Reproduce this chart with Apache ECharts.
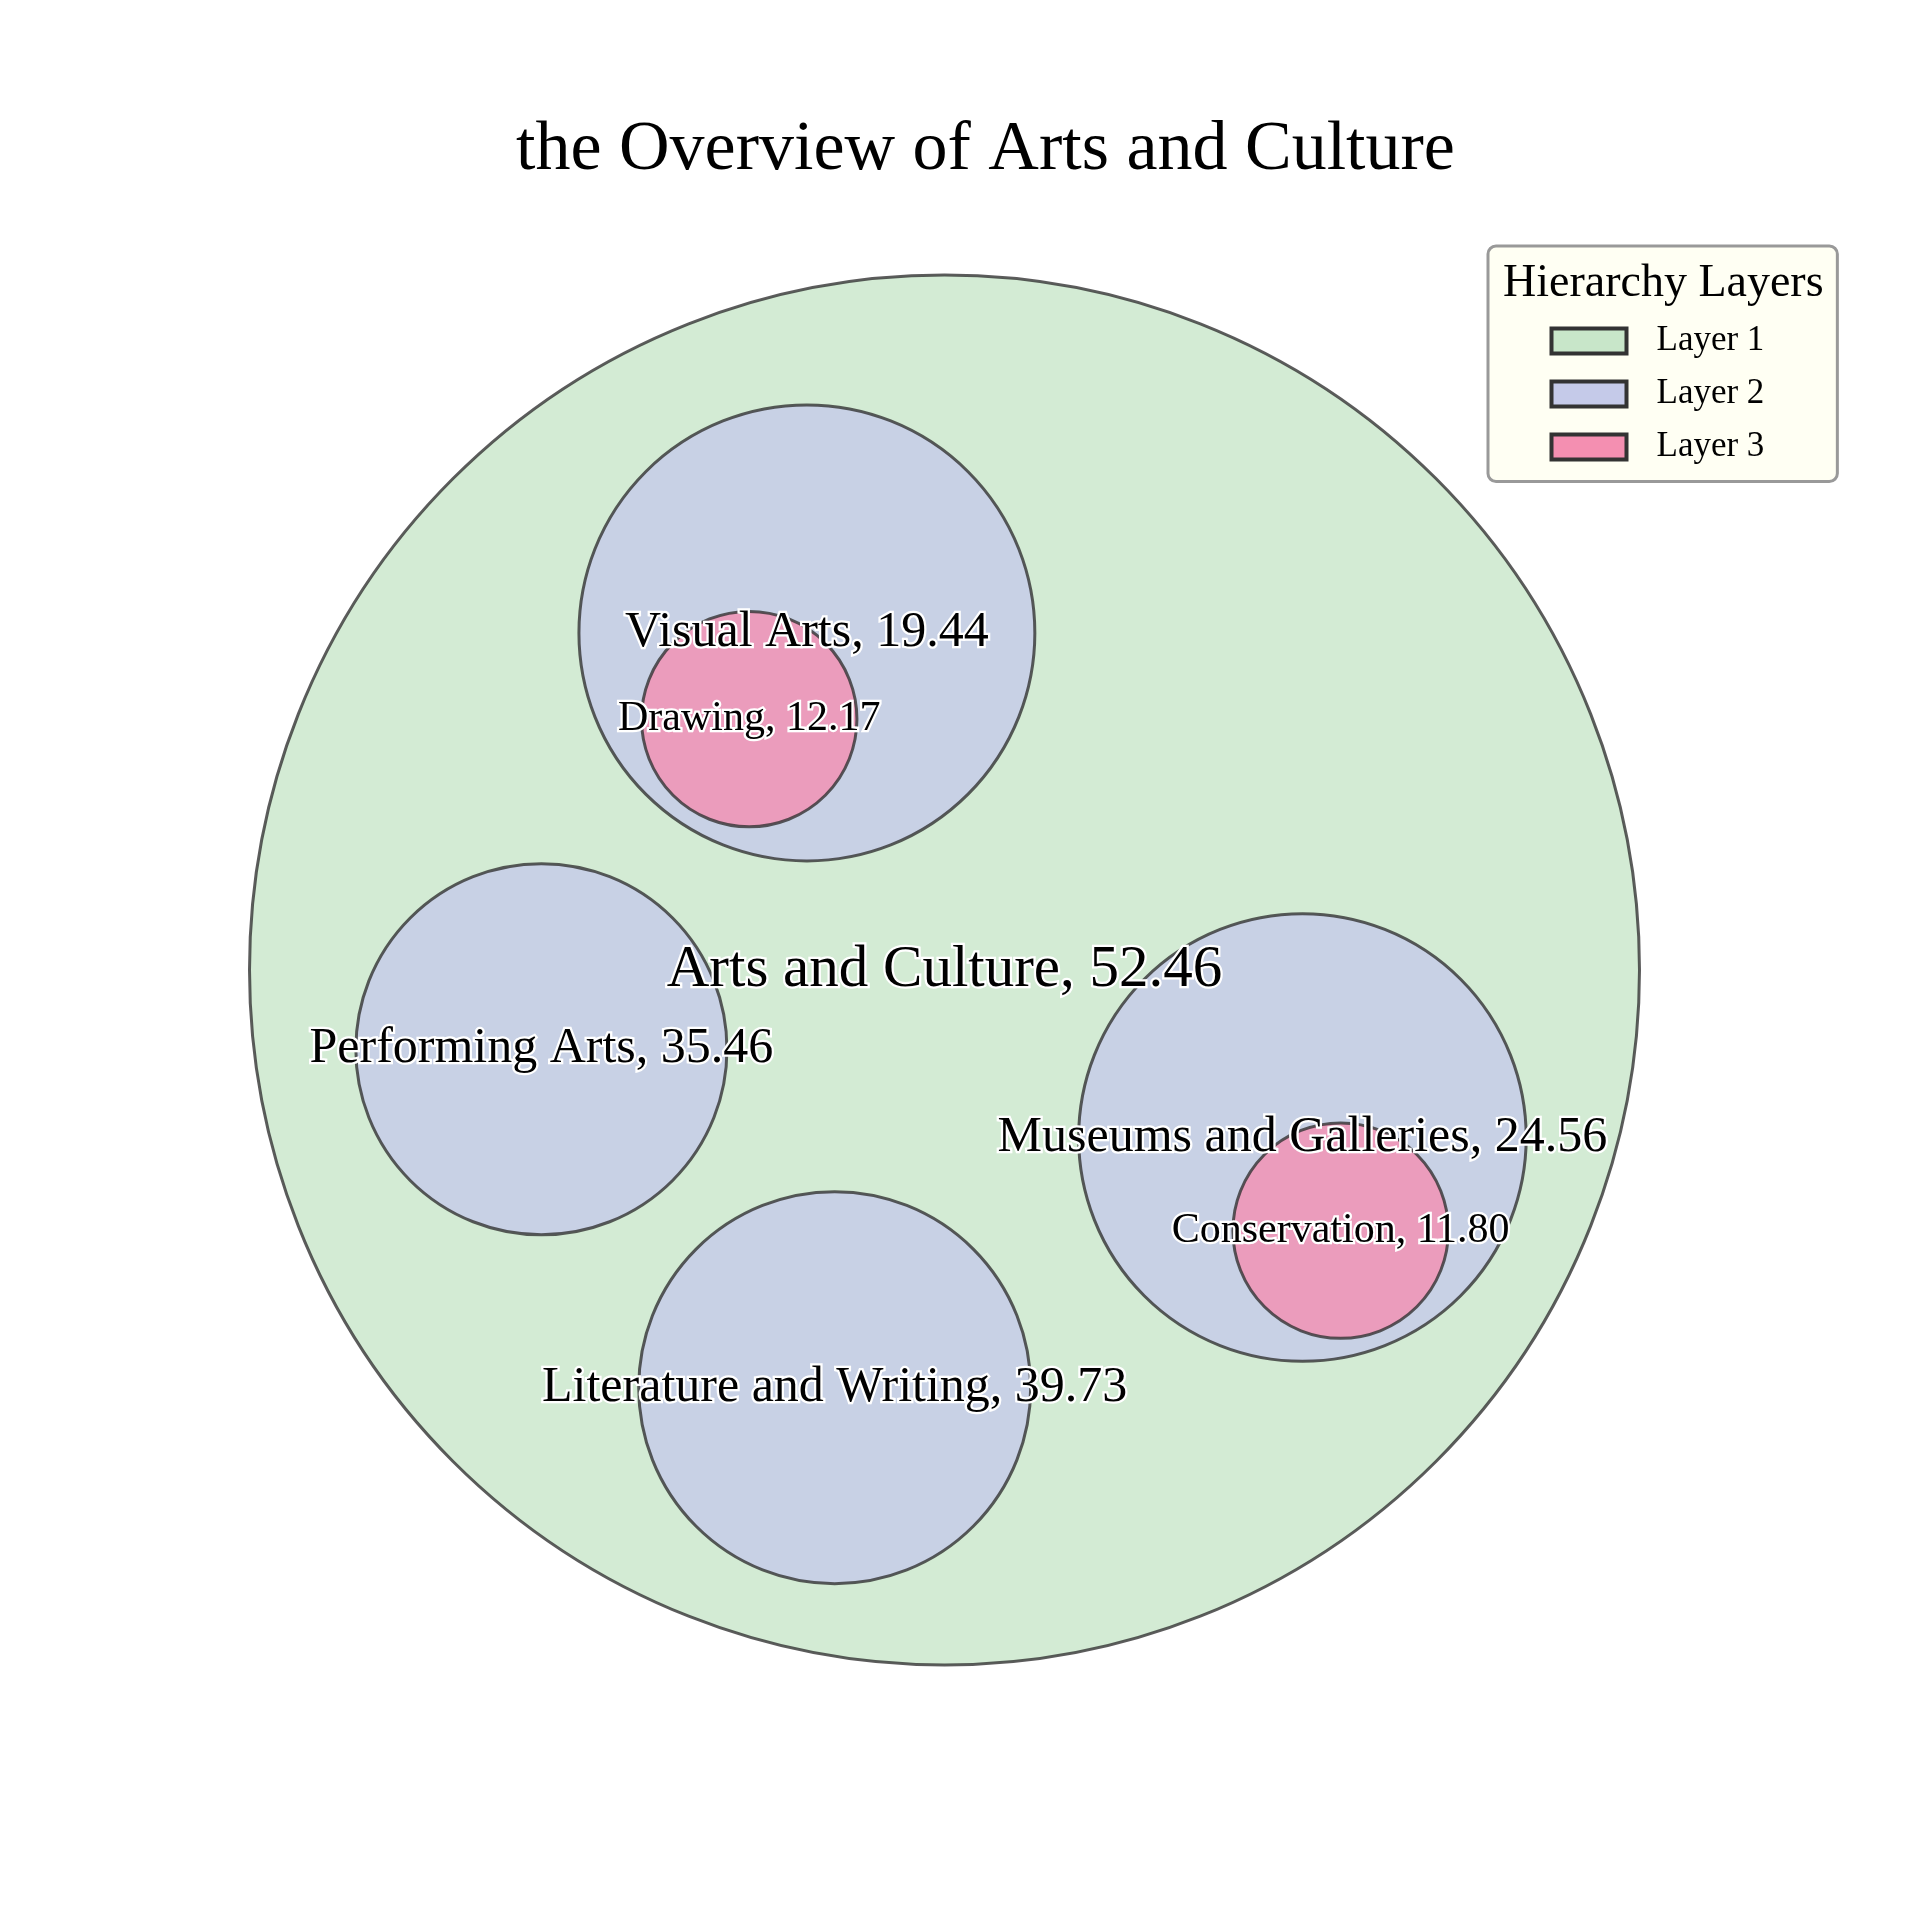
<!DOCTYPE html>
<html><head><meta charset="utf-8">
<script src="https://cdn.jsdelivr.net/npm/echarts/dist/echarts.min.js"></script>
<style>html,body{margin:0;padding:0;background:#fff}#main{width:1920px;height:1920px}</style>
</head><body><div id="main"></div>
<script>
// ---- data ----
const layerNames = ['Layer 1', 'Layer 2', 'Layer 3'];

const layer1Names = ['Arts and Culture'];
const layer1Values = [52.46];
// circle-packing layout in data units: [x, y, r]
const layer1Layout = [[0, 0, 1]];

const layer2Names = ['Visual Arts', 'Performing Arts', 'Museums and Galleries', 'Literature and Writing'];
const layer2Values = [19.44, 35.46, 24.56, 39.73];
const layer2Layout = [[-0.198, 0.485, 0.328], [-0.580, -0.114, 0.267], [0.515, -0.241, 0.322], [-0.158, -0.601, 0.282]];

const layer3Names = ['Drawing', 'Conservation'];
const layer3Values = [12.17, 11.80];
const layer3Layout = [[-0.281, 0.361, 0.155], [0.570, -0.375, 0.155]];

// ---- styles ----
const baseColors = ['#C8E6C9', '#C5CAE9', '#F48FB1'];
const fillColors = ['rgba(200,230,201,0.8)', 'rgba(197,202,233,0.8)', 'rgba(244,143,177,0.8)'];
const labelSizes = [59, 50, 42];
const FONT = '"Liberation Serif", "Times New Roman", serif';

const layers = [
  { names: layer1Names, values: layer1Values, layout: layer1Layout },
  { names: layer2Names, values: layer2Values, layout: layer2Layout },
  { names: layer3Names, values: layer3Values, layout: layer3Layout }
];

function makeRender(li) {
  const L = layers[li];
  return function (params, api) {
    const c = api.coord([api.value(0), api.value(1)]);
    const s = api.size([api.value(2), api.value(2)]);
    const r = s[0];
    const i = params.dataIndex;
    return {
      type: 'group',
      children: [
        {
          type: 'circle',
          shape: { cx: c[0], cy: c[1], r: r },
          style: { fill: fillColors[li], stroke: 'rgba(51,51,51,0.8)', lineWidth: 3 },
          z2: li
        },
        {
          type: 'text',
          x: c[0], y: c[1],
          style: {
            text: L.names[i] + ', ' + L.values[i].toFixed(2),
            fontFamily: FONT,
            fontSize: labelSizes[li],
            fill: '#000',
            stroke: '#fff',
            lineWidth: 4.5,
            align: 'center',
            verticalAlign: 'middle'
          },
          z2: 100
        }
      ]
    };
  };
}

const chart = echarts.init(document.getElementById('main'), null, { renderer: 'canvas' });
chart.setOption({
  backgroundColor: '#ffffff',
  animation: false,
  title: [
    {
      text: 'the Overview of Arts and Culture',
      left: 511, top: 111,
      textStyle: { fontFamily: FONT, fontSize: 70, fontWeight: 'normal', color: '#000' }
    },
    {
      text: 'Hierarchy Layers',
      left: 1498, top: 256,
      z: 10,
      textStyle: { fontFamily: FONT, fontSize: 46, fontWeight: 'normal', color: '#000' }
    }
  ],
  grid: { left: 249.5, top: 275, width: 1390, height: 1390 },
  xAxis: { type: 'value', min: -1, max: 1, show: false },
  yAxis: { type: 'value', min: -1, max: 1, show: false },
  legend: {
    orient: 'vertical',
    left: 1488, top: 246,
    padding: [77.5, 73, 17, 61.5],
    itemWidth: 75, itemHeight: 25, itemGap: 18,
    backgroundColor: 'rgba(255,255,240,0.8)',
    borderColor: '#999', borderWidth: 3, borderRadius: 8,
    icon: 'rect',
    selectedMode: false,
    textStyle: { fontFamily: FONT, fontSize: 35, color: '#000', padding: [0, 0, 0, 25] },
    data: layerNames.map((n, i) => ({
      name: n,
      itemStyle: { color: baseColors[i], borderColor: '#333', borderWidth: 4 }
    }))
  },
  series: layers.map((L, li) => ({
    type: 'custom',
    name: layerNames[li],
    coordinateSystem: 'cartesian2d',
    clip: false,
    itemStyle: { color: baseColors[li] },
    renderItem: makeRender(li),
    data: L.layout.map(p => [p[0], p[1], p[2]])
  }))
});
</script>
</body></html>
